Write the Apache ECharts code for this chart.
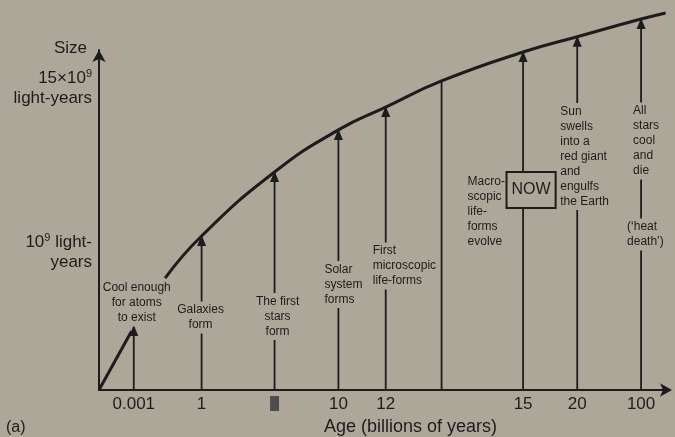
<!DOCTYPE html>
<html>
<head>
<meta charset="utf-8">
<script src="https://cdn.jsdelivr.net/npm/echarts@6/dist/echarts.min.js"></script>
<style>
html,body{margin:0;padding:0;background:#aca799;}
#chart{width:675px;height:437px;}
</style>
</head>
<body>
<div id="chart"></div>
<script>
// schematic age position (0-100 along axis) and size (0-100 = axis top)
var eventPos  = [6.1, 18.0, 30.8, 42.0, 50.3, 60.1, 74.4, 83.9, 95.1];
var eventSize = [18.8, 45.3, 64.1, 76.5, 83.2, 90.9, 99.4, 103.9, 109.1];
var ageLabels = ['0.001', '1', '#', '10', '12', '', '15', '20', '100'];
var hasArrow  = [true, true, true, true, true, false, true, true, true];

// curve ends (start after the gap, end past last arrow)
var curveStart = [11.6, 32.9];
var curveEnd   = [99.4, 110.9];

var sizeTicks  = [88.8, 40.5];
var sizeLabels = ['15×10{sup|9}\nlight-years', '10{sup|9} light-\nyears'];

var eventNotes = [
	'Cool enough\nfor atoms\nto exist',
	'Galaxies\nform',
	'The first\nstars\nform',
	'Solar\nsystem\nforms',
	'First\nmicroscopic\nlife-forms',
	'Macro-\nscopic\nlife-\nforms\nevolve',
	'NOW',
	'Sun\nswells\ninto a\nred giant\nand\nengulfs\nthe Earth',
	'All\nstars\ncool\nand\ndie'
];
var extraNote = '(‘heat\ndeath’)';

var BG = '#aca799';
var INK = '#1c1c1c';
var FONT = '"Liberation Sans", Arial, sans-serif';

// where each note sits: y in size units, dx in px from its line
var noteLayout = [
	{y: 25.6, dx: 3, align: 'center'},
	{y: 21.3, dx: -1, align: 'center'},
	{y: 21.6, dx: 3, align: 'center'},
	{y: 31.0, dx: -16, align: 'left'},
	{y: 36.5, dx: -15, align: 'left'},
	{y: 52.4, dx: 24, align: 'left'},
	{y: 58.8, dx: 8, align: 'center', box: true},
	{y: 68.7, dx: -19, align: 'left'},
	{y: 73.2, dx: -10, align: 'left'}
];
var extraLayout = {y: 45.7, dx: -16, align: 'left'};

var curveData = [curveStart];
for (var i = 1; i < eventPos.length; i++) {
	curveData.push([eventPos[i], eventSize[i]]);
}
curveData.push(curveEnd);

function noteText(p, text, lay) {
	var st = {
		text: text,
		fill: INK,
		fontSize: 12,
		fontFamily: FONT,
		lineHeight: 15,
		align: lay.align,
		verticalAlign: 'middle',
		backgroundColor: BG,
		padding: [1, 2]
	};
	if (lay.box) {
		st.fontSize = 16;
		st.lineHeight = 18;
		st.padding = [8, 4, 8, 4];
		st.borderColor = INK;
		st.borderWidth = 2;
	}
	return {type: 'text', x: p[0] + lay.dx, y: p[1], style: st};
}

function renderArrow(params, api) {
	var i = params.dataIndex;
	var x = api.value(0);
	var base = api.coord([x, 0]);
	var tip = api.coord([x, api.value(1)]);
	var kids = [{
		type: 'line',
		shape: {x1: base[0], y1: base[1], x2: tip[0], y2: tip[1]},
		style: {stroke: INK, lineWidth: 1.8}
	}];
	if (hasArrow[i]) {
		kids.push({
			type: 'polygon',
			shape: {points: [[tip[0], tip[1] - 1], [tip[0] - 4.5, tip[1] + 10], [tip[0] + 4.5, tip[1] + 10]]},
			style: {fill: INK}
		});
	}
	kids.push(noteText(api.coord([x, noteLayout[i].y]), eventNotes[i], noteLayout[i]));
	if (i === eventPos.length - 1) {
		kids.push(noteText(api.coord([x, extraLayout.y]), extraNote, extraLayout));
	}
	return {type: 'group', children: kids};
}

var myChart = echarts.init(document.getElementById('chart'));
var option = {
	backgroundColor: BG,
	animation: false,
	textStyle: {fontFamily: FONT},
	grid: {left: 99, right: 6, top: 50, bottom: 47, outerBoundsMode: 'none'},
	graphic: [{
		type: 'text', left: 6, top: 420,
		style: {text: '(a)', fill: INK, fontSize: 16, fontFamily: FONT}
	}],
	xAxis: {
		type: 'value', min: 0, max: 100,
		name: 'Age (billions of years)',
		nameLocation: 'middle',
		nameGap: 28,
		nameTextStyle: {color: INK, fontSize: 18, fontFamily: FONT, padding: [0, 0, 0, 53]},
		splitLine: {show: false},
		axisTick: {show: false},
		axisLine: {show: true, symbol: ['none', 'arrow'], symbolSize: [10, 12], symbolOffset: [0, 3], lineStyle: {color: INK, width: 2}},
		axisLabel: {
			customValues: eventPos.filter(function(v, i){ return ageLabels[i] !== ''; }),
			color: INK, fontSize: 17, fontFamily: FONT, margin: 6,
			formatter: function(v){
				var lab = ageLabels[eventPos.indexOf(v)];
				return lab === '#' ? '{blk| }' : lab;
			},
			rich: {blk: {width: 9, height: 15, backgroundColor: '#4d4d4d'}}
		}
	},
	yAxis: {
		type: 'value', min: 0, max: 100,
		name: 'Size',
		nameLocation: 'end',
		nameGap: 2,
		nameTextStyle: {color: INK, fontSize: 17, fontFamily: FONT, align: 'right', verticalAlign: 'middle', padding: [0, 12, 0, 0]},
		splitLine: {show: false},
		axisTick: {show: false},
		axisLine: {show: true, symbol: ['none', 'arrow'], symbolSize: [10, 12], lineStyle: {color: INK, width: 2}},
		axisLabel: {
			customValues: sizeTicks,
			color: INK, fontSize: 17, fontFamily: FONT, lineHeight: 20, margin: 7, align: 'right',
			formatter: function(v){ return sizeLabels[sizeTicks.indexOf(v)]; },
			rich: {sup: {fontSize: 11, verticalAlign: 'top', color: INK}}
		}
	},
	series: [{
		type: 'custom',
		clip: false,
		renderItem: renderArrow,
		data: eventPos.map(function(x, i){ return [x, eventSize[i]]; }),
		z: 2
	}, {
		type: 'line',
		clip: false,
		smooth: 0.5,
		showSymbol: false,
		symbol: 'none',
		lineStyle: {color: INK, width: 3},
		data: curveData,
		z: 3
	}, {
		type: 'line',
		clip: false,
		showSymbol: false,
		symbol: 'none',
		lineStyle: {color: INK, width: 3},
		data: [[0, 0], [eventPos[0] - 0.4, eventSize[0] - 1.5]],
		z: 3
	}]
};
myChart.setOption(option);
</script>
</body>
</html>
